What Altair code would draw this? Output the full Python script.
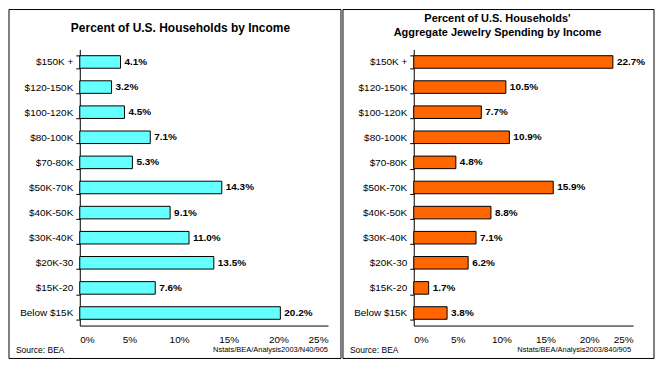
import altair as alt
import pandas as pd

FONT = "Liberation Sans"

categories = ["$150K +", "$120-150K", "$100-120K", "$80-100K", "$70-80K", "$50K-70K",
              "$40K-50K", "$30K-40K", "$20K-30", "$15K-20", "Below  $15K"]
households = [4.1, 3.2, 4.5, 7.1, 5.3, 14.3, 9.1, 11.0, 13.5, 7.6, 20.2]
jewelry = [22.7, 10.5, 7.7, 10.9, 4.8, 15.9, 8.8, 7.1, 6.2, 1.7, 3.8]
x_ticks = [0, 5, 10, 15, 20, 25]

left_title = ["Percent of U.S. Households by Income"]
right_title = ["Percent of U.S. Households'", "Aggregate Jewelry Spending by Income"]
source_text = "Source: BEA"
left_path = "Nstats/BEA/Analysis2003/N40/905"
right_path = "Nstats/BEA/Analysis2003/840/905"

H = 277
AXIS_AREA = 71
TOP_AREA = 40
BOTTOM_AREA = 33


def panel(values, color, title, title_size, title_x, title_ys, path, width, right_margin, path_dx):
    df = pd.DataFrame({
        "cat": categories,
        "val": values,
        "lbl": [f"{v:.1f}%" for v in values],
    })
    one = pd.DataFrame({"k": [0]})
    y_enc = alt.Y(
        "cat:N", sort=categories, title=None,
        scale=alt.Scale(paddingInner=0.5, paddingOuter=0.25),
        axis=alt.Axis(
            domainColor="black", domainWidth=1, tickColor="black", tickSize=4,
            tickWidth=1, tickBand="extent", labelPadding=3, labelFontSize=10,
            labelFont=FONT, labelColor="black", labelOverlap=False, grid=False,
        ),
    )
    x_enc = alt.X(
        "val:Q", title=None,
        scale=alt.Scale(domain=[0, 25], nice=False),
        axis=alt.Axis(
            values=x_ticks, labelExpr="datum.value + '%'", domainColor="black",
            domainWidth=1, ticks=False, labelPadding=9, labelFontSize=10,
            labelFont=FONT, labelColor="black", grid=False,
        ),
    )
    bars = alt.Chart(df).mark_bar(color=color, stroke="black", strokeWidth=1).encode(
        x=x_enc, y=y_enc
    )
    labels = alt.Chart(df).mark_text(
        align="left", baseline="middle", dx=4, fontWeight="bold", fontSize=10,
        font=FONT, color="black"
    ).encode(x="val:Q", y=alt.Y("cat:N", sort=categories), text="lbl:N")
    frame = alt.Chart(one).mark_rect(filled=False, stroke="black", strokeWidth=1).encode(
        x=alt.value(-AXIS_AREA), x2=alt.value(width + right_margin),
        y=alt.value(-TOP_AREA), y2=alt.value(H + BOTTOM_AREA),
    )
    src = alt.Chart(one).mark_text(
        align="left", baseline="middle", fontSize=8.5, font=FONT, color="black"
    ).encode(x=alt.value(-AXIS_AREA + 7), y=alt.value(H + 25), text=alt.value(source_text))
    pth = alt.Chart(one).mark_text(
        align="right", baseline="middle", fontSize=7.5, font=FONT, color="black"
    ).encode(x=alt.value(width + path_dx), y=alt.value(H + 25), text=alt.value(path))
    titles = [
        alt.Chart(one).mark_text(
            align="center", baseline="middle", fontSize=title_size, fontWeight="bold",
            font=FONT, color="black"
        ).encode(x=alt.value(title_x), y=alt.value(ty), text=alt.value(line))
        for line, ty in zip(title, title_ys)
    ]
    return alt.layer(frame, bars, labels, src, pth, *titles).properties(
        width=width, height=H,
    )


left = panel(households, "#66FFFF", left_title, 12, 101, [-21], left_path, 249, 13, 0)
right = panel(jewelry, "#FF6600", right_title, 11, 84, [-31, -16], right_path, 220, 21, -2)

chart = alt.hconcat(left, right, spacing=0).properties(
    padding=0, background="white"
).configure_view(stroke="transparent")

chart.save("out.html", embed_options={"renderer": "svg", "actions": False})
